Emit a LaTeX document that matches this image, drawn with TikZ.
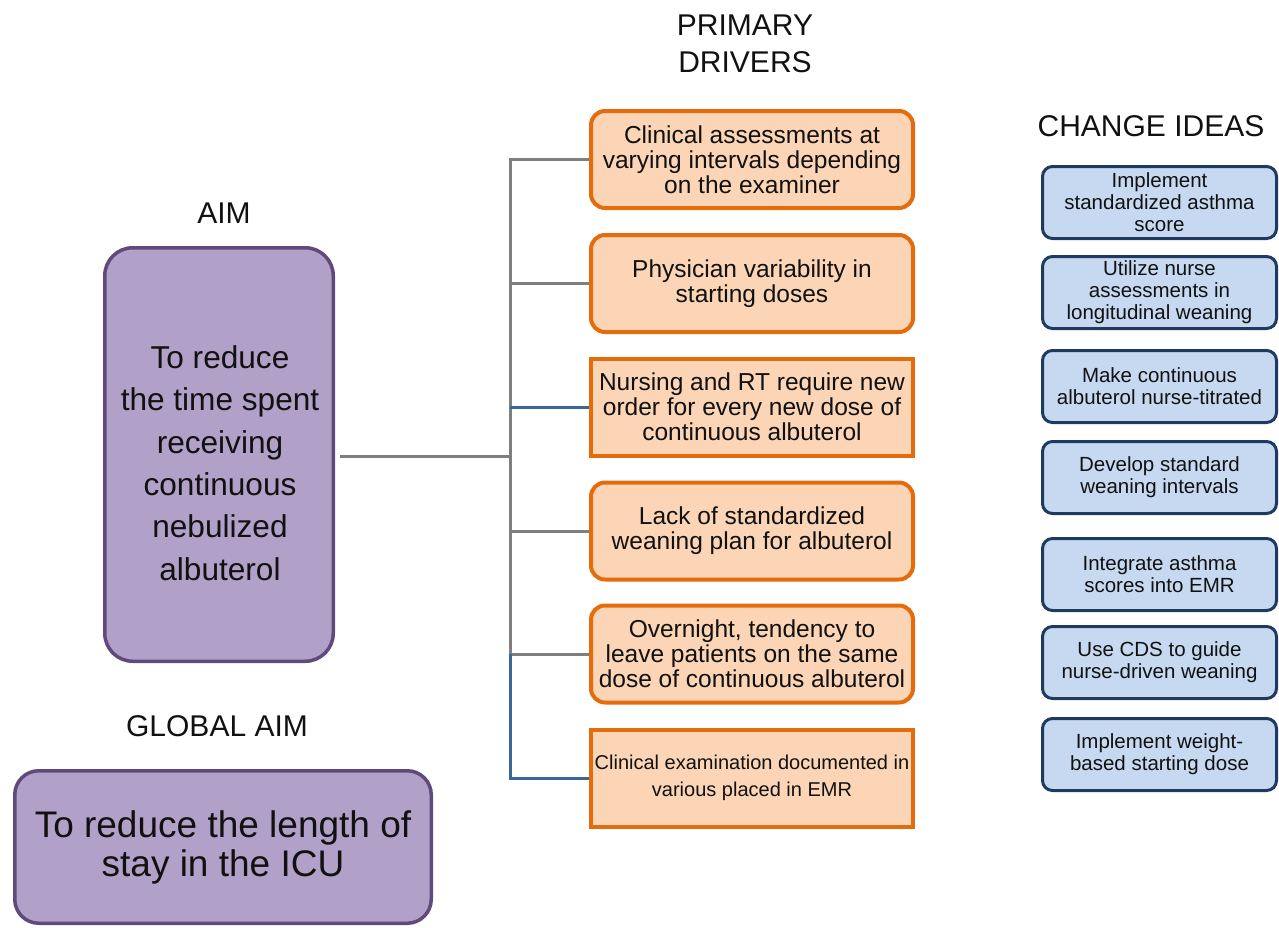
\documentclass[tikz,border=0pt]{standalone}
\usepackage{fontspec}
\setmainfont{Liberation Sans}
\definecolor{aimFill}{HTML}{B1A0C7}
\definecolor{aimLine}{HTML}{5F4A7B}
\definecolor{drvFill}{HTML}{FBD5B5}
\definecolor{drvLine}{HTML}{E46C0A}
\definecolor{ideaFill}{HTML}{C6D9F1}
\definecolor{ideaLine}{HTML}{1F3A60}
\definecolor{cGray}{HTML}{7F7F7F}
\definecolor{cBlue}{HTML}{3B6699}
\definecolor{txt}{HTML}{111111}
\begin{document}
\begin{tikzpicture}[x=1pt,y=-1pt,
  every node/.style={text=txt},
  aimbox/.style={draw=aimLine, fill=aimFill, line width=3.5pt, rounded corners=28pt, inner sep=0pt},
  aimtext/.style={align=center, inner sep=0pt, font=\fontsize{31.6}{42.3}\selectfont},
  drvround/.style={draw=drvLine, fill=drvFill, line width=4pt, rounded corners=14pt, minimum width=322pt, minimum height=97pt, align=center, inner sep=0pt, font=\fontsize{24.5}{25}\selectfont},
  drvsharp/.style={drvround, sharp corners},
  ideabox/.style={draw=ideaLine, fill=ideaFill, line width=3pt, rounded corners=10pt, minimum width=234pt, minimum height=72pt, align=center, inner sep=0pt, font=\fontsize{20.5}{22}\selectfont},
  heading/.style={align=center, inner sep=0pt, font=\fontsize{30}{37}\selectfont},
  conn/.style={draw=cGray, line width=3pt},
  connb/.style={draw=cBlue, line width=3pt}
]
\useasboundingbox (0,0) rectangle (1279,927);

% headings
\node[heading] (hpd) at (745,44) {PRIMARY\\DRIVERS};
\node[heading] (hci) at (1151,126) {CHANGE IDEAS};
\node[heading] (haim) at (224,213) {AIM};
\node[heading] (hgl) at (217,726) {GLOBAL AIM};

% aim
\node[aimbox, minimum width=228.5pt, minimum height=413.5pt] (aim) at (219,454.5) {};
\node[aimtext] (aimt) at (220,463) {To reduce\\the time spent\\receiving\\continuous\\nebulized\\albuterol};

% global aim
\node[aimbox, rounded corners=24pt, minimum width=416.5pt, minimum height=152.5pt, align=center, font=\fontsize{37}{39}\selectfont] (glob) at (223,847) {To reduce the length of\\stay in the ICU};

% primary drivers
\node[drvround] (d1) at (752,159.5) {Clinical assessments at\\varying intervals depending\\on the examiner};
\node[drvround] (d2) at (752,283.5) {Physician variability in\\starting doses};
\node[drvsharp] (d3) at (752,407) {Nursing and RT require new\\order for every new dose of\\continuous albuterol};
\node[drvround] (d4) at (752,531) {Lack of standardized\\weaning plan for albuterol};
\node[drvround] (d5) at (752,654) {Overnight, tendency to\\leave patients on the same\\dose of continuous albuterol};
\node[drvsharp, font=\fontsize{20}{27}\selectfont] (d6) at (752,778) {Clinical examination documented in\\various placed in EMR};

% change ideas
\node[ideabox] (c1) at (1159.5,202.5) {Implement\\standardized asthma\\score};
\node[ideabox] (c2) at (1159.5,292.5) {Utilize nurse\\assessments in\\longitudinal weaning};
\node[ideabox] (c3) at (1159.5,386.5) {Make continuous\\albuterol nurse-titrated};
\node[ideabox] (c4) at (1159.5,477.5) {Develop standard\\weaning intervals};
\node[ideabox] (c5) at (1159.5,574.5) {Integrate asthma\\scores into EMR};
\node[ideabox] (c6) at (1159.5,662.5) {Use CDS to guide\\nurse-driven weaning};
\node[ideabox] (c7) at (1159.5,754.5) {Implement weight-\\based starting dose};

% connectors
\coordinate (trunk) at (510,0);
\draw[conn] ([xshift=5pt]aim.east |- 0,456) -- (trunk |- 0,456);
\draw[conn] (d1.west) -- (d1.west -| trunk) -- (d5.west -| trunk);
\draw[conn] (d2.west -| trunk) -- (d2.west);
\draw[connb] (d3.west -| trunk) -- (d3.west);
\draw[conn] (d4.west -| trunk) -- (d4.west);
\draw[conn] (d5.west -| trunk) -- (d5.west);
\draw[connb] (d5.west -| trunk) -- (d6.west -| trunk) -- (d6.west);
\end{tikzpicture}
\end{document}
